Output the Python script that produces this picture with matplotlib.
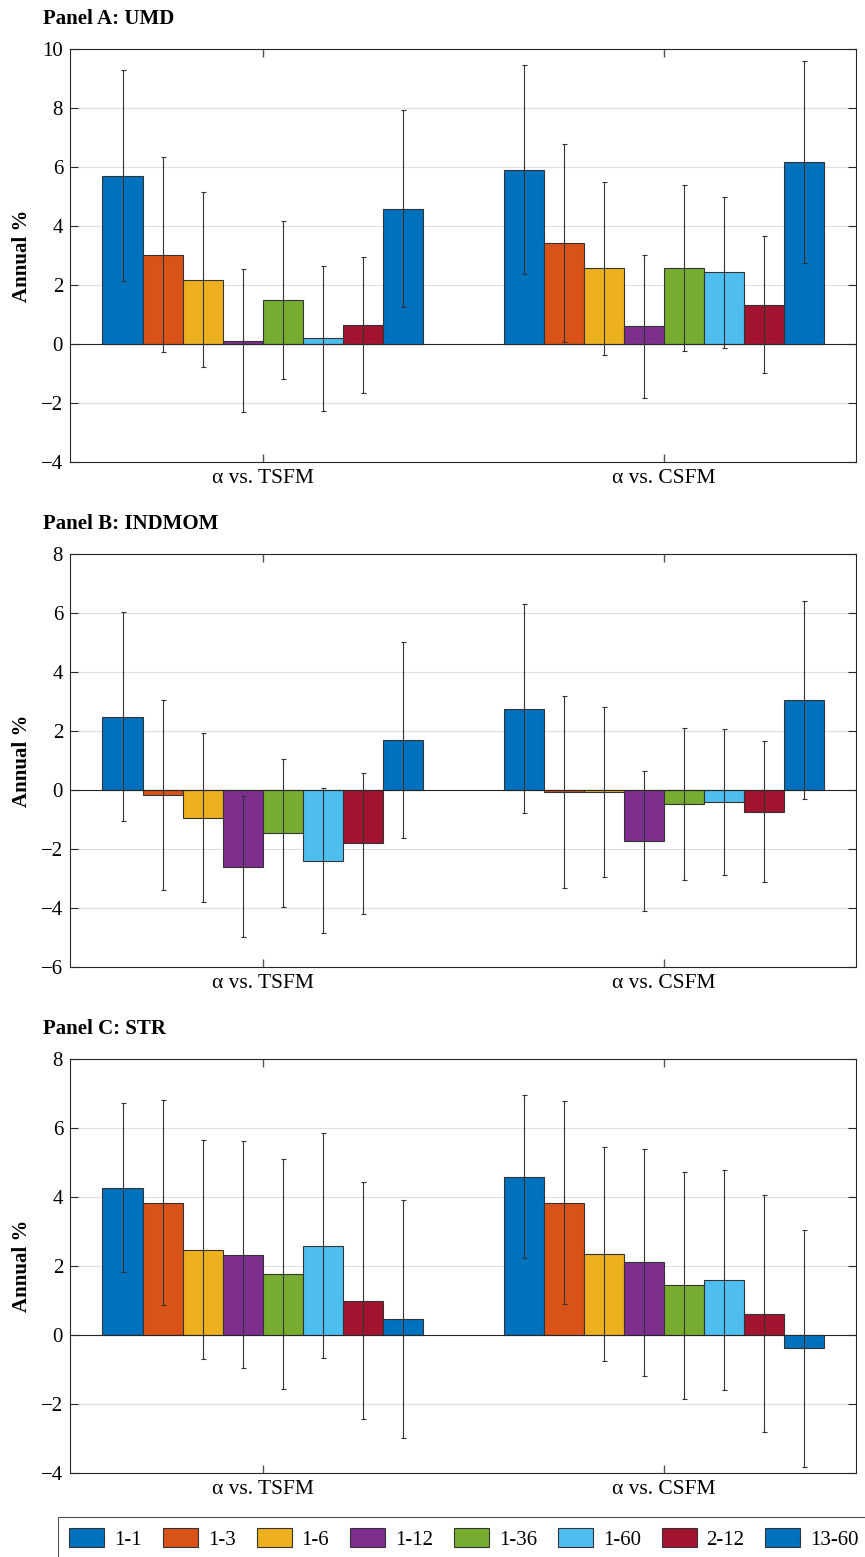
import numpy as np
import matplotlib
matplotlib.use("Agg")
import matplotlib.pyplot as plt
from matplotlib.patches import Patch

plt.rcParams['font.family'] = ['Liberation Serif', 'DejaVu Serif']

# horizons (legend labels) and groups
horizons = ["1-1", "1-3", "1-6", "1-12", "1-36", "1-60", "2-12", "13-60"]
groups = ["\u03b1 vs. TSFM", "\u03b1 vs. CSFM"]
colors = ["#0072BD", "#D95319", "#EDB120", "#7E2F8E",
          "#77AC30", "#4DBEEE", "#A2142F", "#0072BD"]

# Panel A: UMD  (alpha, lower CI, upper CI) per group
umd_tsfm = [5.70, 3.03, 2.16, 0.11, 1.48, 0.19, 0.65, 4.58]
umd_tsfm_lo = [2.12, -0.27, -0.79, -2.30, -1.20, -2.26, -1.67, 1.25]
umd_tsfm_hi = [9.27, 6.35, 5.14, 2.54, 4.17, 2.63, 2.96, 7.93]
umd_csfm = [5.90, 3.41, 2.56, 0.60, 2.57, 2.43, 1.33, 6.16]
umd_csfm_lo = [2.37, 0.08, -0.36, -1.82, -0.24, -0.14, -0.98, 2.74]
umd_csfm_hi = [9.44, 6.76, 5.48, 3.00, 5.39, 4.98, 3.65, 9.60]

# Panel B: INDMOM
ind_tsfm = [2.49, -0.17, -0.95, -2.61, -1.46, -2.39, -1.80, 1.69]
ind_tsfm_lo = [-1.05, -3.39, -3.81, -4.98, -3.98, -4.86, -4.20, -1.64]
ind_tsfm_hi = [6.03, 3.04, 1.92, -0.21, 1.04, 0.06, 0.59, 5.01]
ind_csfm = [2.75, -0.06, -0.07, -1.73, -0.47, -0.40, -0.74, 3.04]
ind_csfm_lo = [-0.78, -3.32, -2.96, -4.11, -3.05, -2.88, -3.13, -0.30]
ind_csfm_hi = [6.30, 3.19, 2.80, 0.65, 2.09, 2.07, 1.65, 6.40]

# Panel C: STR
str_tsfm = [4.27, 3.83, 2.47, 2.33, 1.76, 2.57, 0.98, 0.45]
str_tsfm_lo = [1.83, 0.86, -0.71, -0.97, -1.57, -0.68, -2.44, -2.99]
str_tsfm_hi = [6.72, 6.81, 5.65, 5.63, 5.09, 5.84, 4.42, 3.90]
str_csfm = [4.58, 3.83, 2.34, 2.10, 1.44, 1.59, 0.61, -0.39]
str_csfm_lo = [2.22, 0.89, -0.77, -1.18, -1.86, -1.59, -2.80, -3.83]
str_csfm_hi = [6.94, 6.78, 5.46, 5.40, 4.73, 4.77, 4.05, 3.04]

panels = [
    ("Panel A: UMD", [umd_tsfm, umd_csfm], [umd_tsfm_lo, umd_csfm_lo],
     [umd_tsfm_hi, umd_csfm_hi], (-4, 10), [0.7033, 0.2653], 19),
    ("Panel B: INDMOM", [ind_tsfm, ind_csfm], [ind_tsfm_lo, ind_csfm_lo],
     [ind_tsfm_hi, ind_csfm_hi], (-6, 8), [0.3789, 0.2653], 524),
    ("Panel C: STR", [str_tsfm, str_csfm], [str_tsfm_lo, str_csfm_lo],
     [str_tsfm_hi, str_csfm_hi], (-4, 8), [0.0540, 0.2659], 1029),
]

W, H = 865, 1557
fig = plt.figure(figsize=(W / 100, H / 100), dpi=100)

nb = len(horizons)
bw = 0.1
offsets = (np.arange(nb) - (nb - 1) / 2) * bw
dark = "#262626"

for title, vals, los, his, ylim, (bot, hgt), ty in panels:
    ax = fig.add_axes([70 / W, bot, 786 / W, hgt])
    for g in range(2):
        v = np.array(vals[g])
        lo = np.array(los[g])
        hi = np.array(his[g])
        x = g + 1 + offsets
        ax.bar(x, v, width=bw, color=colors, edgecolor="#333333",
               linewidth=0.8, zorder=2)
        ax.errorbar(x, v, yerr=[v - lo, hi - v], fmt="none", ecolor="#333333",
                    elinewidth=0.8, capsize=1.8, capthick=0.8, zorder=3)
    ax.axhline(0, color=dark, lw=0.8, zorder=2.5)
    ax.set_xlim(0.519, 2.479)
    ax.set_ylim(*ylim)
    ax.set_yticks(np.arange(ylim[0], ylim[1] + 1, 2))
    ax.set_xticks([1, 2])
    ax.set_xticklabels(groups, fontsize=15.5)
    ax.tick_params(axis="y", labelsize=15, direction="in", length=6,
                   right=True, color=dark, width=0.8, pad=5)
    ax.tick_params(axis="x", direction="in", length=6, top=True,
                   color="#555555", width=1.0, pad=5)
    ax.yaxis.grid(True, color="#dedede", lw=0.8, zorder=0)
    ax.set_axisbelow(True)
    for s in ax.spines.values():
        s.set_color(dark)
        s.set_linewidth(0.8)
    ax.set_ylabel("Annual %", fontsize=15, fontweight="bold", labelpad=6)
    fig.text(43 / W, 1 - ty / H, title, fontsize=15, fontweight="bold",
             ha="left", va="center")

handles = [Patch(facecolor=c, edgecolor="#333333", lw=0.8) for c in colors]
leg = fig.legend(handles, horizons, loc="upper left", ncol=8,
                 bbox_to_anchor=(58 / W, 1 - 1517 / H), fontsize=15,
                 frameon=True, fancybox=False, edgecolor=dark,
                 handlelength=1.68, handleheight=1.0, handletextpad=0.48,
                 columnspacing=1.0, borderpad=0.55, borderaxespad=0)
leg.get_frame().set_linewidth(0.8)

fig.savefig("out.png", dpi=100)
